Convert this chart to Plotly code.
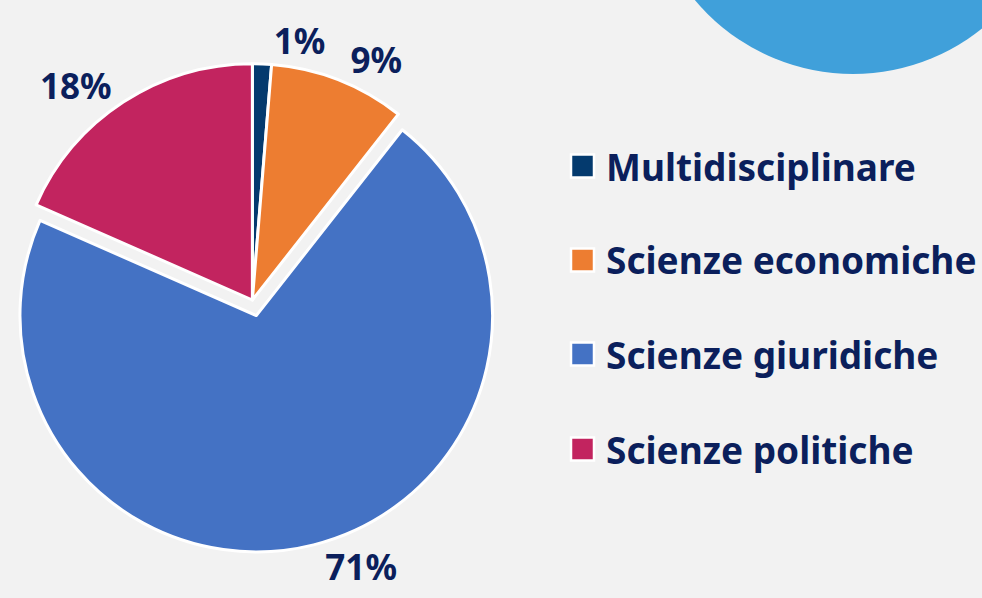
import plotly.graph_objects as go

categories = ["Multidisciplinare", "Scienze economiche", "Scienze giuridiche", "Scienze politiche"]
values = [1.3, 9.3, 71.0, 18.4]
colors = ["#043a6e", "#ed7d31", "#4472c4", "#c2245f"]
pulls = [0, 0, 0.068, 0]

W, H = 982, 598
TEXT_COLOR = "#0b1f5c"
FONT = "Noto Sans"
DOMAIN = dict(x=[0, 0.514], y=[1 - 553 / 598, 1 - 47 / 598])
label_font = dict(family=FONT, size=35, color=TEXT_COLOR, weight="bold")

fig = go.Figure()
# main pie: labels for all slices except the thin first one
fig.add_trace(go.Pie(
    labels=categories,
    values=values,
    sort=False,
    direction="clockwise",
    rotation=0,
    pull=pulls,
    marker=dict(colors=colors, line=dict(color="white", width=3)),
    textinfo="percent",
    texttemplate="%{percent:.0%}",
    textposition=["none", "outside", "outside", "outside"],
    outsidetextfont=label_font,
    domain=DOMAIN,
    showlegend=False,
    hoverinfo="label+percent",
))
# same pie, transparent, carrying only the thin slice's label (avoids label scooting)
fig.add_trace(go.Pie(
    labels=categories,
    values=values,
    sort=False,
    direction="clockwise",
    rotation=0,
    pull=pulls,
    marker=dict(colors=["rgba(0,0,0,0)"] * 4, line=dict(width=0)),
    textinfo="percent",
    texttemplate="%{percent:.0%}",
    textposition=["outside", "none", "none", "none"],
    outsidetextfont=label_font,
    domain=DOMAIN,
    showlegend=False,
    hoverinfo="skip",
))

# decorative circle top-right
cx, cy, r = 853, -132, 206
shapes = [dict(type="circle", xref="paper", yref="paper",
               x0=(cx - r) / W, x1=(cx + r) / W,
               y0=1 - (cy + r) / H, y1=1 - (cy - r) / H,
               fillcolor="#40a0da", line=dict(width=0), layer="below")]

# manual legend
legend_y = [166, 260, 354, 449]
annotations = []
for name, col, yy in zip(categories, colors, legend_y):
    shapes.append(dict(type="rect", xref="paper", yref="paper",
                       x0=571 / W, x1=594 / W,
                       y0=1 - (yy + 11.5) / H, y1=1 - (yy - 11.5) / H,
                       fillcolor=col, line=dict(color="white", width=2.5)))
    annotations.append(dict(x=604 / W, y=1 - yy / H, xref="paper", yref="paper",
                            text=name, showarrow=False, xanchor="left", yanchor="middle",
                            font=dict(family=FONT, size=37, color=TEXT_COLOR, weight="bold")))

fig.update_layout(
    width=W, height=H,
    margin=dict(l=0, r=0, t=0, b=0, autoexpand=False),
    paper_bgcolor="#f2f2f2",
    plot_bgcolor="#f2f2f2",
    shapes=shapes,
    annotations=annotations,
)

fig.write_html("out.html", config={"displayModeBar": False},
               post_script="document.body.style.margin='0';")
